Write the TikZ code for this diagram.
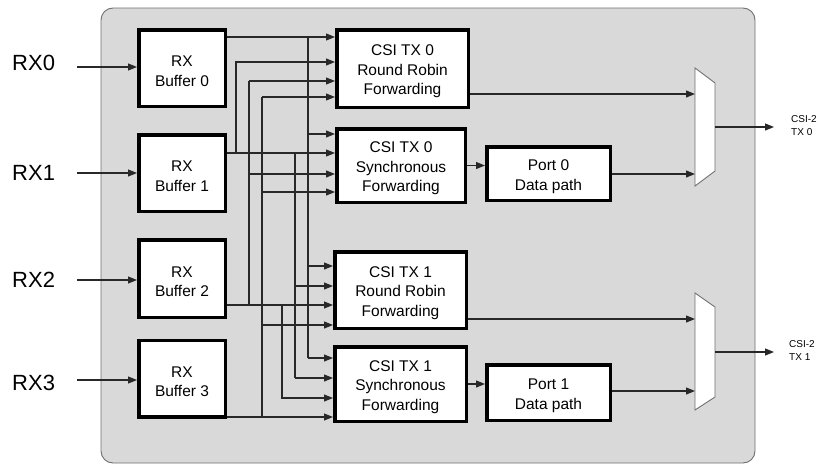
\documentclass[tikz,border=0pt]{standalone}
\usepackage{fontspec}
\setmainfont{Liberation Sans}
\usetikzlibrary{arrows.meta,calc}
\definecolor{bgfill}{RGB}{217,217,217}
\definecolor{bgline}{RGB}{112,112,112}
\definecolor{wirec}{RGB}{40,40,40}
\newcommand{\boxfont}{\fontsize{15.5}{19.5}\selectfont}
\newcommand{\rxfont}{\fontsize{22}{26}\selectfont}
\newcommand{\smallfont}{\fontsize{10}{13}\selectfont}
\newcommand{\tp}{\rule{0pt}{17pt}}
\begin{document}
\begin{tikzpicture}[x=1pt,y=-1pt,
  blk/.style={draw=black, line width=3.5pt, fill=white, align=center, font=\boxfont, inner sep=0pt},
  wire/.style={draw=wirec, line width=1.1pt},
  arr/.style={wire, -{Triangle[length=9pt,width=7pt]}},
  lbl/.style={font=\rxfont, anchor=west, inner sep=0pt},
  mux/.style={draw=bgline, fill=white, line width=0.9pt}]
\useasboundingbox (0,0) rectangle (820,466);
% background
\draw[fill=bgfill, draw=bgline, line width=0.9pt, rounded corners=12pt] (101,8) rectangle (755,463);
% buffers
\node[blk, minimum width=86.5, minimum height=76.5] (B0) at (182,68) {\tp RX\\Buffer 0};
\node[blk, minimum width=86.5, minimum height=76.5] (B1) at (182,173) {\tp RX\\Buffer 1};
\node[blk, minimum width=86.5, minimum height=77.5] (B2) at (182,278.5) {\tp RX\\Buffer 2};
\node[blk, minimum width=86.5, minimum height=76.5] (B3) at (182,378.5) {\tp RX\\Buffer 3};
% forwarding blocks
\node[blk, minimum width=131.5, minimum height=77.5] (A) at (402.5,68.5) {\tp CSI TX 0\\Round Robin\\Forwarding};
\node[blk, minimum width=128.5, minimum height=73.5] (S0) at (401,165.5) {\tp CSI TX 0\\Synchronous\\Forwarding};
\node[blk, minimum width=131.5, minimum height=76.5] (C) at (400.5,290) {\tp CSI TX 1\\Round Robin\\Forwarding};
\node[blk, minimum width=131.5, minimum height=74.5] (S1) at (400.5,384) {\tp CSI TX 1\\Synchronous\\Forwarding};
\node[blk, minimum width=123.5, minimum height=53.5] (P0) at (548.5,173.5) {\tp Port 0\\Data path};
\node[blk, minimum width=123.5, minimum height=55.5] (P1) at (548.5,392.5) {\tp Port 1\\Data path};
% RX labels
\node[lbl] (RX0) at (12,63) {RX0};
\node[lbl] (RX1) at (12,173) {RX1};
\node[lbl] (RX2) at (12,280) {RX2};
\node[lbl] (RX3) at (12,383) {RX3};
\coordinate (i0) at (77,67);
\coordinate (i1) at (77,173);
\coordinate (i2) at (77,280);
\coordinate (i3) at (77,380);
\draw[arr] (i0) -- (B0.west |- i0);
\draw[arr] (i1) -- (B1.west |- i1);
\draw[arr] (i2) -- (B2.west |- i2);
\draw[arr] (i3) -- (B3.west |- i3);
% buffer 0 (y=37, bus x=308)
\draw[arr] (B0.east |- 0,37) -- (A.west |- 0,37);
\draw[wire] (308,37) -- (308,358);
\draw[arr] (308,134) -- (S0.west |- 0,134);
\draw[arr] (308,266) -- (C.west |- 0,266);
\draw[arr] (308,358) -- (S1.west |- 0,358);
% buffer 1 (y=153, bus x=236 up, x=295 down)
\draw[arr] (B1.east |- 0,153) -- (S0.west |- 0,153);
\draw[arr] (236,153) |- (A.west |- 0,62);
\draw[wire] (295,153) -- (295,378);
\draw[arr] (295,286) -- (C.west |- 0,286);
\draw[arr] (295,378) -- (S1.west |- 0,378);
% buffer 2 (y=305, bus x=249 up, x=282 down)
\draw[arr] (B2.east |- 0,305) -- (C.west |- 0,305);
\draw[wire] (249,305) -- (249,81);
\draw[arr] (249,81) -- (A.west |- 0,81);
\draw[arr] (249,174) -- (S0.west |- 0,174);
\draw[arr] (282,305) |- (S1.west |- 0,398);
% buffer 3 (y=417, bus x=262 up)
\draw[arr] (B3.east |- 0,417) -- (S1.west |- 0,417);
\draw[wire] (262,417) -- (262,97);
\draw[arr] (262,97) -- (A.west |- 0,97);
\draw[arr] (262,192) -- (S0.west |- 0,192);
\draw[arr] (262,325) -- (C.west |- 0,325);
% sync -> port
\draw[arr] (S0.east) -- (P0.west |- S0.east);
\draw[arr] (S1.east) -- (P1.west |- S1.east);
% muxes
\draw[mux] (695,68) -- (715,83) -- (715,171) -- (695,186) -- cycle;
\draw[mux] (695,293) -- (715,307) -- (715,397) -- (695,410) -- cycle;
\coordinate (M0in1) at (695,94);
\coordinate (M0in2) at (695,174);
\coordinate (M0out) at (715,127);
\coordinate (M0end) at (774,127);
\coordinate (M1in1) at (695,319);
\coordinate (M1in2) at (695,391);
\coordinate (M1out) at (715,352);
\coordinate (M1end) at (774,352);
\draw[arr] (A.east |- M0in1) -- (M0in1);
\draw[arr] (P0.east |- M0in2) -- (M0in2);
\draw[arr] (C.east |- M1in1) -- (M1in1);
\draw[arr] (P1.east |- M1in2) -- (M1in2);
\node[font=\smallfont, anchor=west, align=left, inner sep=0pt] (T0) at (791,126) {CSI-2\\TX 0};
\node[font=\smallfont, anchor=west, align=left, inner sep=0pt] (T1) at (789,351) {CSI-2\\TX 1};
\draw[arr] (M0out) -- (M0end);
\draw[arr] (M1out) -- (M1end);
\end{tikzpicture}
\end{document}
